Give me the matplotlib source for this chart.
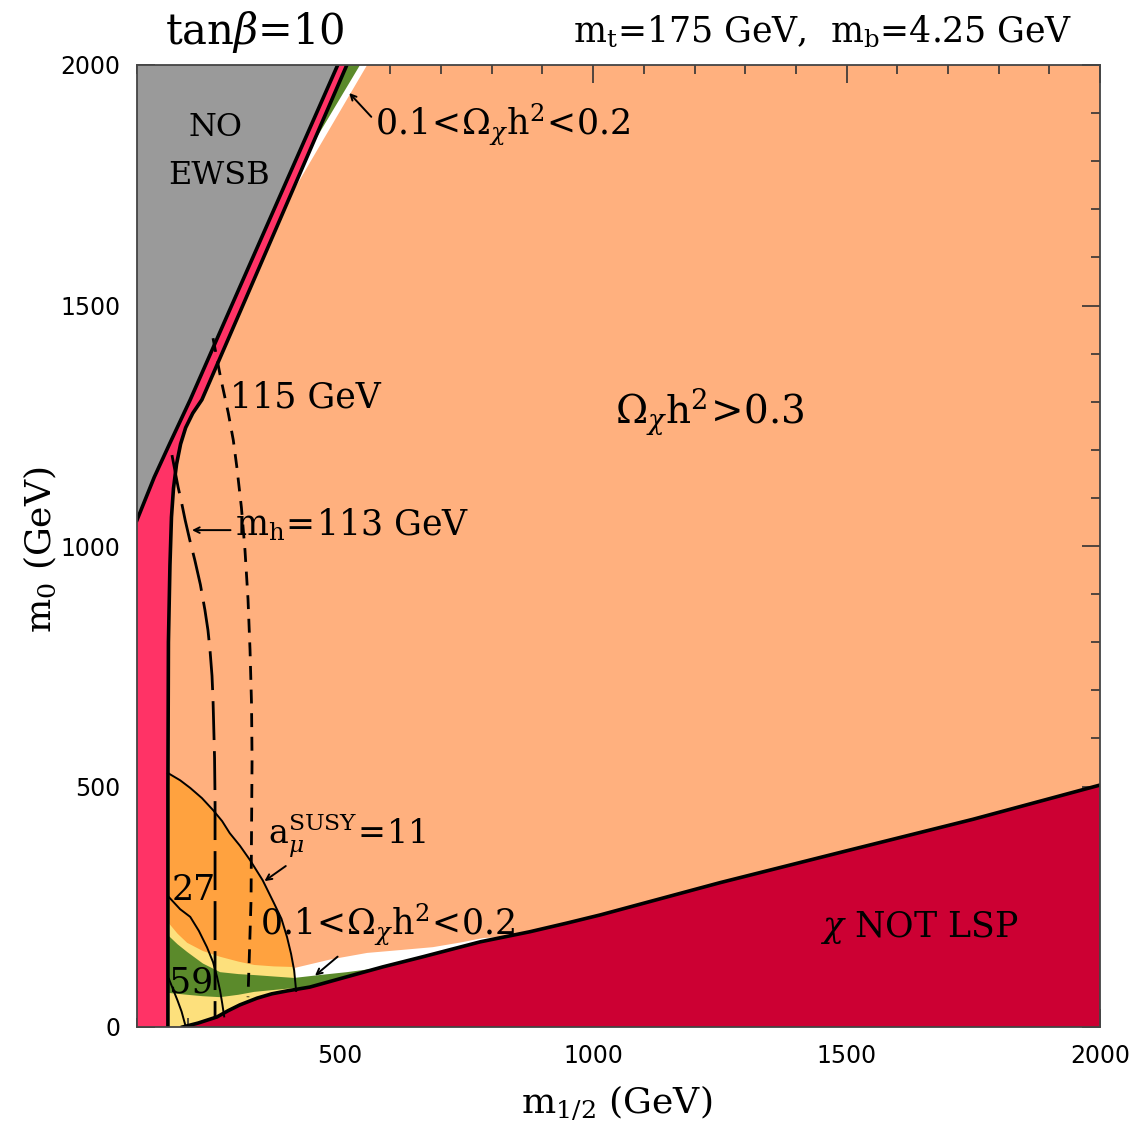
import numpy as np
import matplotlib
matplotlib.use("Agg")
import matplotlib.pyplot as plt
from matplotlib.patches import Polygon
from matplotlib.ticker import MultipleLocator

plt.rcParams['mathtext.fontset'] = 'dejavuserif'
plt.rcParams['font.family'] = 'DejaVu Serif'

# m_1/2 and m_0 in GeV
xmin, xmax, ymin, ymax = 100, 2000, 0, 2000

# electroweak symmetry breaking boundary (gray, upper left)
ewsb_mhalf = [100, 134, 165, 205, 283, 496]
ewsb_m0 = [1054, 1143, 1214, 1304, 1491, 2000]

# chargino mass bound (pink strip)
charg_mhalf = [161, 161, 162, 165, 168, 172, 178, 186, 196, 210, 228, 305, 514]
charg_m0 = [0, 500, 800, 960, 1060, 1120, 1170, 1212, 1246, 1276, 1304, 1491, 2000]

# stau LSP boundary (dark red region below)
stau_mhalf = [190, 220, 258, 280, 303, 337, 366, 396, 441, 506, 585, 664, 777, 875, 948, 1014,
              1250, 1499, 1750, 2000]
stau_m0 = [0, 8, 21, 34, 46, 60, 69, 75, 83, 102, 125, 146, 177, 198, 216, 233,
           300, 366, 432, 503]

# g-2 contours a_mu^SUSY = 11, 27, 59 (x 1e-10)
amu11_mhalf = [161, 185, 205, 228, 250, 268, 283, 303, 323, 348, 370, 385, 396, 404, 410, 414]
amu11_m0 = [528, 513, 497, 476, 451, 428, 403, 377, 347, 305, 258, 225, 187, 152, 118, 75]
amu27_mhalf = [163, 185, 205, 222, 238, 250, 258, 264, 268, 272]
amu27_m0 = [270, 245, 229, 200, 166, 135, 104, 75, 50, 22]
amu59_mhalf = [163, 172, 180, 188, 195]
amu59_m0 = [100, 76, 55, 32, 5]

# relic density bands inside the g-2 region
yellow_top_mhalf = [161, 180, 199, 230, 264, 300, 331, 370, 402, 420]
yellow_top_m0 = [218, 194, 175, 158, 146, 136, 129, 126, 125, 124]
green_top_mhalf = [161, 180, 199, 230, 264, 300, 331, 370, 410, 460, 514, 579]
green_top_m0 = [191, 172, 156, 132, 114, 110, 108, 105, 102, 108, 114, 123]
green_bot_mhalf = [579, 410, 370, 331, 300, 264, 230, 199, 161]
green_bot_m0 = [0, 81, 77, 73, 67, 62, 64, 67, 71]

# 0.2 < Omega h^2 < 0.3 strip along the stau boundary
white_top_mhalf = [412, 480, 554, 620, 684, 740, 783, 840]
white_top_m0 = [123, 140, 154, 160, 166, 176, 185, 188]

# strips along the chargino boundary at large m_0
white_up_mhalf = [554, 406, 300, 300]
white_up_m0 = [2000, 1734, 1734, 2000]
green_up_mhalf = [540, 455, 300, 300]
green_up_m0 = [2000, 1850, 1850, 2000]

# Higgs mass contours
mh113_mhalf = [169, 175, 181, 188, 195, 204, 214, 225, 234, 240, 244, 248, 250, 253, 254, 254]
mh113_m0 = [1189, 1156, 1123, 1090, 1054, 1013, 971, 920, 867, 825, 784, 730, 680, 560, 472, 18]
mh115_mhalf = [250, 265, 280, 290, 297, 306, 313, 319, 323, 326, 327, 326, 325, 322, 319]
mh115_m0 = [1432, 1350, 1277, 1220, 1164, 1080, 992, 890, 784, 670, 555, 410, 264, 160, 62]

peach = '#ffb07e'
gray = '#9a9a9a'
pink = '#ff3366'
darkred = '#cc0033'
orange = '#ffa23f'
yellow = '#fde07c'
green = '#5b8a2b'

fig = plt.figure(figsize=(11.32, 11.35), dpi=100)
ax = fig.add_axes([137 / 1132, 1 - 1027 / 1135, 963 / 1132, 962 / 1135])
ax.set_facecolor(peach)
ax.set_xlim(xmin, xmax)
ax.set_ylim(ymin, ymax)


def poly(xs, ys, color, z, clip=None):
    p = Polygon(np.column_stack([xs, ys]), closed=True, facecolor=color,
                edgecolor='none', zorder=z)
    ax.add_patch(p)
    if clip is not None:
        p.set_clip_path(clip)
    return p


# upper strips
poly(white_up_mhalf, white_up_m0, 'white', 1)
poly(green_up_mhalf, green_up_m0, green, 1.1)

# strips along stau boundary
poly(white_top_mhalf + [840, 412], white_top_m0 + [0, 0], 'white', 1)
poly(green_top_mhalf[8:] + [579, 410], green_top_m0[8:] + [0, 0], green, 1.1)

# g-2 favoured region and relic density bands inside it
amu_patch = poly(amu11_mhalf + [414, 161], amu11_m0 + [0, 0], orange, 1.2)
poly(yellow_top_mhalf + [420, 161], yellow_top_m0 + [0, 0], yellow, 1.3, clip=amu_patch)
poly(green_top_mhalf + green_bot_mhalf, green_top_m0 + green_bot_m0, green, 1.4, clip=amu_patch)
poly(green_bot_mhalf + [161, 579], green_bot_m0 + [0, 0], yellow, 1.35, clip=amu_patch)

# excluded regions
poly(stau_mhalf + [2000, 190], stau_m0 + [0, 0], darkred, 2)
poly(charg_mhalf[::-1] + [100, 100], charg_m0[::-1] + [0, 2000], pink, 2)
poly(ewsb_mhalf + [100], ewsb_m0 + [2000], gray, 2.1)

# boundaries
ax.plot(ewsb_mhalf, ewsb_m0, color='black', lw=2.6, zorder=3)
ax.plot(charg_mhalf, charg_m0, color='black', lw=2.6, zorder=3)
ax.plot(stau_mhalf, stau_m0, color='black', lw=2.6, zorder=3)

ax.plot(amu11_mhalf, amu11_m0, color='black', lw=1.4, zorder=3)
ax.plot(amu27_mhalf, amu27_m0, color='black', lw=1.4, zorder=3)
ax.plot(amu59_mhalf, amu59_m0, color='black', lw=1.4, zorder=3)

ax.plot(mh113_mhalf, mh113_m0, color='black', lw=2, dashes=(14, 4), zorder=3)
ax.plot(mh115_mhalf, mh115_m0, color='black', lw=2, dashes=(5, 3.5), zorder=3)

# labels
txt = dict(color='black', zorder=5, family='DejaVu Serif')
ax.text(254, 1870, 'NO', fontsize=23, ha='center', va='center', **txt)
ax.text(262, 1770, 'EWSB', fontsize=23, ha='center', va='center', **txt)
ax.text(570, 1875, r'$0.1\!<\!\Omega_\chi\mathrm{h}^2\!<\!0.2$', fontsize=25, va='center', **txt)
ax.annotate('', xy=(515, 1946), xytext=(566, 1888),
            arrowprops=dict(arrowstyle='->', lw=1.4, color='black'), zorder=5)
ax.text(1043, 1278, r'$\Omega_\chi\mathrm{h}^2\!>\!0.3$', fontsize=28, va='center', **txt)
ax.text(283, 1308, '115 GeV', fontsize=25, va='center', **txt)
ax.text(293, 1044, r'$\mathrm{m_h}\!=\!113$ GeV', fontsize=25, va='center', **txt)
ax.annotate('', xy=(203, 1033), xytext=(290, 1033),
            arrowprops=dict(arrowstyle='->', lw=1.4, color='black'), zorder=5)
ax.text(358, 398, r'$\mathrm{a}_\mu^{\mathrm{SUSY}}\!=\!11$', fontsize=24, va='center', **txt)
ax.annotate('', xy=(347, 300), xytext=(398, 338),
            arrowprops=dict(arrowstyle='->', lw=1.4, color='black'), zorder=5)
ax.text(168, 285, '27', fontsize=25, va='center', **txt)
ax.text(343, 212, r'$0.1\!<\!\Omega_\chi\mathrm{h}^2\!<\!0.2$', fontsize=25, va='center', **txt)
ax.annotate('', xy=(447, 103), xytext=(500, 150),
            arrowprops=dict(arrowstyle='->', lw=1.4, color='black'), zorder=5)
ax.text(164, 92, '59', fontsize=25, va='center', **txt)
ax.text(1448, 206, r'$\chi$ NOT LSP', fontsize=25, va='center', **txt)

# axes styling
ax.xaxis.set_major_locator(MultipleLocator(500))
ax.xaxis.set_minor_locator(MultipleLocator(100))
ax.yaxis.set_major_locator(MultipleLocator(500))
ax.yaxis.set_minor_locator(MultipleLocator(100))
ax.tick_params(which='both', direction='in', top=True, right=True, width=1.2,
               colors='#333333', labelcolor='black')
ax.tick_params(which='major', length=13, pad=12, labelsize=17)
ax.tick_params(which='minor', length=6.5)
for lab in ax.get_xticklabels() + ax.get_yticklabels():
    lab.set_family(['DejaVu Sans Condensed', 'Liberation Sans Narrow', 'DejaVu Sans'])
for s in ax.spines.values():
    s.set_linewidth(1.3)
    s.set_color('#444444')
    s.set_zorder(6)

fig.text(617 / 1132, 1 - 1103 / 1135, r'$\mathrm{m}_{1/2}$ (GeV)', fontsize=26,
         ha='center', va='center')
fig.text(40 / 1132, 1 - 550 / 1135, r'$\mathrm{m}_{0}$ (GeV)', fontsize=26,
         ha='center', va='center', rotation=90)
fig.text(165 / 1132, 1 - 32 / 1135, r'tan$\beta$=10', fontsize=30, va='center')
fig.text(1072 / 1132, 1 - 32 / 1135,
         r'$\mathrm{m_t}$=175 GeV,  $\mathrm{m_b}$=4.25 GeV', fontsize=25,
         ha='right', va='center')

fig.savefig('out.png', dpi=100, facecolor='white')
